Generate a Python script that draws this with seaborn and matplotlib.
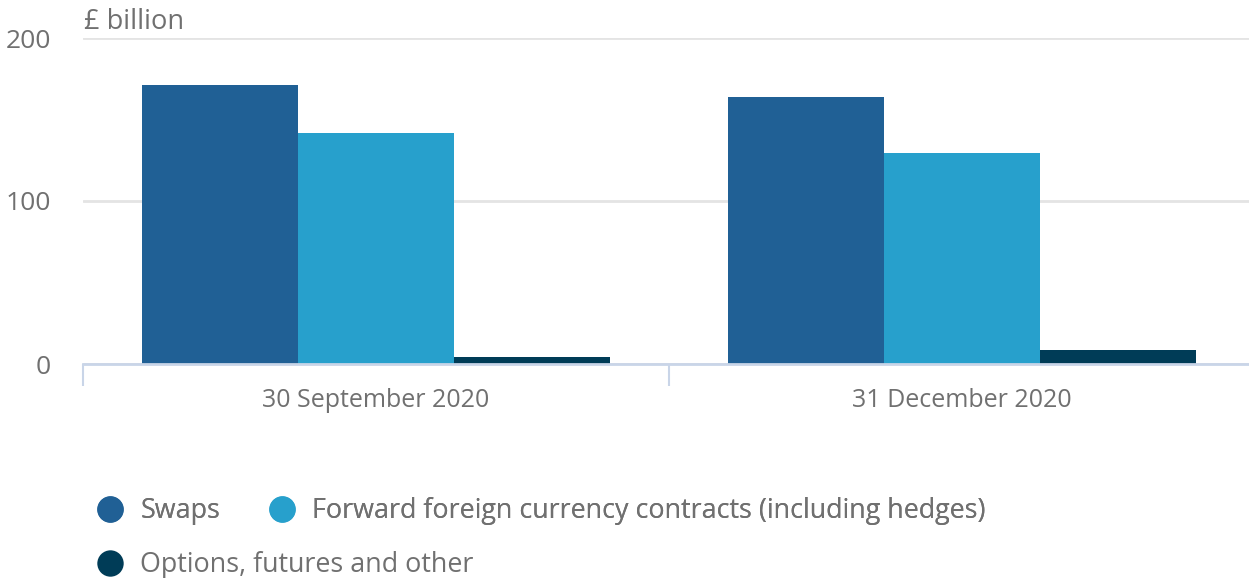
import pandas as pd
import matplotlib.pyplot as plt
import seaborn as sns
from matplotlib.lines import Line2D

# Data (£ billion)
dates = ['30 September 2020', '31 December 2020']
series = ['Swaps', 'Forward foreign currency contracts (including hedges)',
          'Options, futures and other']
swaps = [171, 163.5]
forwards = [141.5, 129.5]
options = [4.5, 8.5]
colors = ['#206095', '#27a0cc', '#003c57']

df = pd.DataFrame({
    'date': dates * 3,
    'series': [s for s in series for _ in dates],
    'value': swaps + forwards + options,
})

sns.set_style('white')
plt.rcParams['font.family'] = ['Open Sans', 'DejaVu Sans']
text_col = '#707070'
fs = 19
leg_fs = 19.4

fig = plt.figure(figsize=(12.49, 5.78), dpi=100)
ax = fig.add_axes([83 / 1249, 1 - 364 / 578, 1172 / 1249, (364 - 38) / 578])

sns.barplot(data=df, x='date', y='value', hue='series', hue_order=series,
            palette=colors, width=0.8, linewidth=0, saturation=1,
            legend=False, ax=ax, zorder=3)

ax.set_xlim(-0.5, 1.5)
ax.set_ylim(0, 200)
ax.set_yticks([0, 100, 200])
ax.set_xlabel('')
ax.set_ylabel('')
ax.yaxis.grid(True, color='#e4e4e4', linewidth=2, zorder=0)
ax.tick_params(axis='y', length=0, labelsize=fs, labelcolor=text_col, pad=23)
ax.tick_params(axis='x', which='major', length=0, labelsize=18,
               labelcolor=text_col, pad=17)
ax.set_xticks([-0.5, 0.5, 1.5], minor=True)
ax.tick_params(axis='x', which='minor', bottom=True, direction='out',
               length=16, width=1.5, color='#c9d5e8')
for s in ['top', 'right', 'left']:
    ax.spines[s].set_visible(False)
ax.spines['bottom'].set_color('#c9d5e8')
ax.spines['bottom'].set_linewidth(2)
ax.spines['bottom'].set_zorder(4)

fig.text(84 / 1249, 1 - 22 / 578, '£ billion', fontsize=19.6, color=text_col,
         va='center', ha='left')

handles = [Line2D([], [], marker='o', linestyle='', markersize=19,
                  markerfacecolor=c, markeredgewidth=0) for c in colors]
leg_kw = dict(loc='center left', frameon=False, fontsize=leg_fs,
              labelcolor=text_col, handletextpad=0.62, handlelength=1.0,
              borderaxespad=0)
leg1 = fig.legend(handles[:2], series[:2], ncol=2, columnspacing=1.8,
                  bbox_to_anchor=(86 / 1249, 1 - 511 / 578), **leg_kw)
fig.add_artist(leg1)
fig.legend(handles[2:], series[2:],
           bbox_to_anchor=(86 / 1249, 1 - 565 / 578), **leg_kw)

fig.savefig('out.png', dpi=100)
